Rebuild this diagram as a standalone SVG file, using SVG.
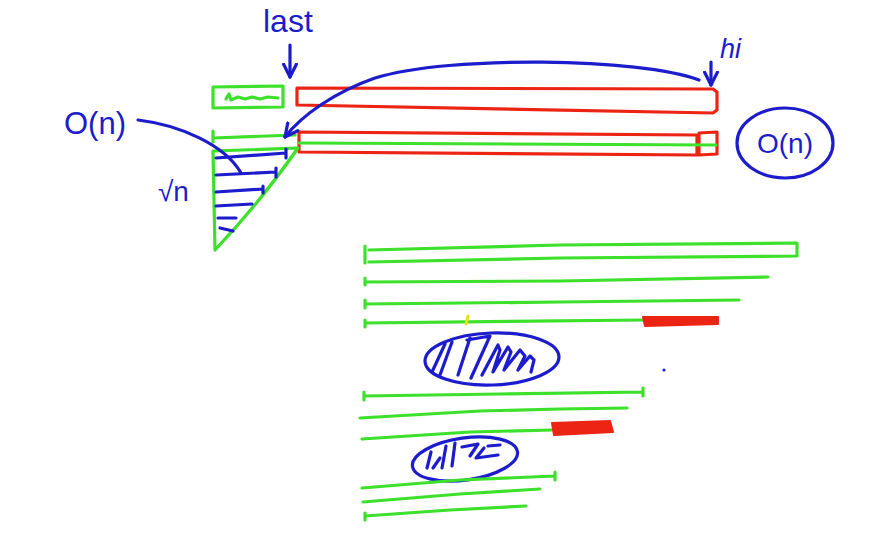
<svg xmlns="http://www.w3.org/2000/svg" width="891" height="536" viewBox="0 0 891 536">
<defs>
<style>
.g{fill:none;stroke:#3de02a;stroke-width:3.2;stroke-linecap:round;stroke-linejoin:round}
.r{fill:none;stroke:#ec2414;stroke-width:3.2;stroke-linecap:round;stroke-linejoin:round}
.rf{fill:#ec2414;stroke:#ec2414;stroke-width:2;stroke-linejoin:round}
.b{fill:none;stroke:#1c1ccc;stroke-width:3.2;stroke-linecap:round;stroke-linejoin:round}
.t{fill:#1c1ccc;font-family:"Liberation Sans",Arial,sans-serif}
</style>
<marker id="ah" viewBox="0 0 10 10" refX="9" refY="5" markerWidth="5" markerHeight="5" orient="auto-start-reverse" markerUnits="strokeWidth">
<path d="M1,1 L9,5 L1,9" fill="none" stroke="#1c1ccc" stroke-width="2" stroke-linecap="round" stroke-linejoin="round"/>
</marker>
</defs>
<rect width="891" height="536" fill="#ffffff"/>

<g id="label-last"><text class="t" x="263" y="32" font-size="32">last</text></g>
<g id="label-hi"><text class="t" x="720" y="58" font-size="27" font-style="italic">hi</text></g>
<g id="label-on-left"><text class="t" x="64" y="134" font-size="31">O(n)</text></g>
<g id="label-sqrtn"><text class="t" x="158" y="201" font-size="28">√n</text></g>
<g id="label-on-right">
<ellipse class="b" cx="785" cy="143" rx="48" ry="35"/>
<text class="t" x="785" y="153" font-size="28" text-anchor="middle">O(n)</text>
</g>

<g id="small-green-box">
<path class="g" d="M213,87 L283,86 L283,107 L213,108 Z"/>
<path class="g" d="M226,99 L229,94 L231,100 L238,97 L245,99 L252,97 L260,99 L268,97 L278,98" stroke-width="2.4"/>
</g>

<g id="red-bar-top">
<path class="r" d="M297,88 L713,89 L717,92 L717,110 L713,113 L297,105 Z"/>
</g>

<g id="row-two">
<path class="g" d="M213,131 L213,142 M213,138 L295,135"/>
<path class="r" d="M299,132 L697,135 L697,155 L299,152 Z"/>
<path class="r" d="M699,133 L717,132 L717,154 L699,155 Z"/>
<path class="g" d="M299,143 L716,145"/>
</g>

<g id="triangle">
<path class="g" d="M213,151 L298,148 Q262,200 215,250 Z"/>
<path class="b" d="M216,158 L286,153 M286,149 L286,158"/>
<path class="b" d="M216,175 L276,172 M276,168 L276,177"/>
<path class="b" d="M216,192 L263,189 M263,186 L263,193"/>
<path class="b" d="M216,206 L252,204"/>
<path class="b" d="M218,218 L236,218"/>
<path class="b" d="M220,228 L233,231"/>
</g>

<g id="list-box">
<path class="g" d="M365,246 L365,263 M369,250 L560,245 L797,243 L797,256 L560,258 L369,262"/>
</g>
<g id="list-line-1"><path class="g" d="M365,278 L365,285 M365,282 L560,281 L768,277"/></g>
<g id="list-line-2"><path class="g" d="M365,300 L365,308 M365,304 L560,302 L739,300"/></g>
<g id="list-line-3">
<path class="g" d="M365,320 L365,327 M365,323 L643,320"/>
<path class="rf" d="M643,317 L718,317 L718,324 L645,326 Z"/>
<path d="M468,316 L466,324" stroke="#e8e020" stroke-width="3" stroke-linecap="round"/>
</g>
<g id="scribble-ellipse-1">
<ellipse class="b" cx="492" cy="359" rx="67" ry="26" transform="rotate(-2 492 359)"/>
<path class="b" d="M445,344 L432,372 M452,342 L440,375 M470,338 L458,375 M467,340 L490,336 L471,378 M482,375 L498,345 L500,350 L493,372 L508,347 L511,352 L504,370 L520,350 L525,356 L518,370 L530,356 L534,360 L531,372"/>
</g>
<circle cx="664" cy="370" r="1.6" fill="#1c1ccc"/>
<g id="list-line-4"><path class="g" d="M364,392 L364,400 M364,396 L500,394 L643,392 M643,388 L643,396"/></g>
<g id="list-line-5"><path class="g" d="M360,418 L480,411 L560,409 L627,408"/></g>
<g id="list-line-6">
<path class="g" d="M362,439 L470,432 L552,430"/>
<path class="rf" d="M552,423 L610,421 L613,432 L554,435 Z"/>
</g>
<g id="scribble-ellipse-2">
<ellipse class="b" cx="465" cy="459" rx="53" ry="21" transform="rotate(-8 465 459)"/>
<path class="b" d="M431,452 L427,468 M440,458 L433,468 M446,446 L442,468 M455,443 L452,466 M462,447 L478,444 L470,456 M484,448 L476,458 L498,455 M488,446 L500,445" stroke-width="2.8"/>
</g>
<g id="list-line-7"><path class="g" d="M362,488 L460,480 L555,476 M555,472 L555,480"/></g>
<g id="list-line-8"><path class="g" d="M363,502 L460,494 L540,489"/></g>
<g id="list-line-9"><path class="g" d="M365,513 L365,520 M365,516 L450,510 L526,506"/></g>

<g id="connectors">
<path class="b" d="M290,45 L290,77" marker-end="url(#ah)"/>
<path class="b" d="M711,62 L711,85" marker-end="url(#ah)"/>
<path class="b" d="M699,80 C640,58 450,55 375,78 C335,92 302,115 285,137" marker-end="url(#ah)"/>
<path class="b" d="M138,120 C180,125 225,145 241,173"/>
</g>
</svg>
